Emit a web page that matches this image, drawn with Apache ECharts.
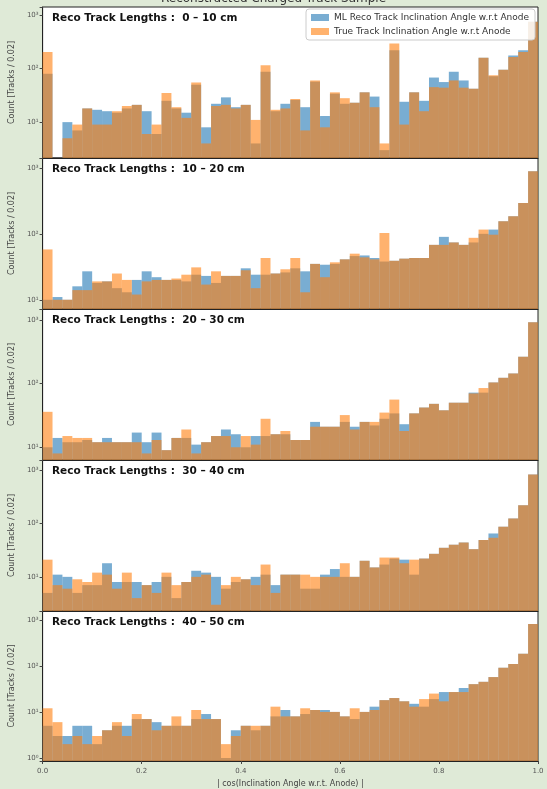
<!DOCTYPE html>
<html><head><meta charset="utf-8">
<script src="https://cdn.jsdelivr.net/npm/echarts@6/dist/echarts.min.js"></script>
<style>html,body{margin:0;padding:0;background:#dfead7;}#c{width:547px;height:789px;}</style>
</head><body><div id="c"></div>
<script>
// ---------- data ----------
const binWidth = 0.02;
const seriesNames = ['ML Reco Track Inclination Angle w.r.t Anode', 'True Track Inclination Angle w.r.t Anode'];
const panelTitles = [
  'Reco Track Lengths :  0 – 10 cm',
  'Reco Track Lengths :  10 – 20 cm',
  'Reco Track Lengths :  20 – 30 cm',
  'Reco Track Lengths :  30 – 40 cm',
  'Reco Track Lengths :  40 – 50 cm'
];
const mlReco_0_10 = [80,0,10,7,18,17,16,15,18,21,16,6,25,18,15,50,8,22,29,19,21,4,87,16,22,26,19,57,13,34,22,23,36,30,3,220,24,36,25,68,56,87,60,42,160,72,95,175,220,750];
const truth_0_10  = [205,0,5,9,18,9,9,16,20,21,6,9,35,19,12,55,4,20,21,18,21,11,116,17,18,27,7,60,8,36,28,23,36,19,4,295,9,36,16,45,44,60,44,42,160,75,95,165,205,750];
const mlReco_10_20 = [10,11,10,16,27,18,19,15,13,20,27,22,20,20,19,24,23,18,23,23,30,24,24,25,26,30,27,35,34,35,41,46,47,43,38,39,42,43,43,68,90,74,68,74,100,116,155,185,294,890];
const truth_10_20  = [58,10,10,14,14,19,19,25,20,12,19,20,20,21,24,31,17,27,23,23,28,15,43,25,29,43,13,35,22,37,41,50,44,41,103,39,42,43,43,68,68,74,68,87,116,97,155,185,294,890];
const mlReco_20_30 = [10,14,12,12,13,12,14,12,12,17,12,17,9,14,14,11,12,15,19,16,10,15,15,16,16,13,13,25,21,21,25,21,25,22,28,34,23,34,42,48,38,50,50,72,72,104,123,144,264,920];
const truth_20_30  = [36,8,15,14,14,12,12,12,12,12,8,13,9,14,19,8,12,15,15,10,15,11,28,16,18,13,13,21,21,21,32,19,25,25,35,56,18,34,42,48,38,50,50,70,85,104,123,144,264,920];
const mlReco_30_40 = [5,11,10,5,7,7,18,8,8,8,7,8,10,4,8,13,12,10,6,8,9,10,11,7,11,11,6,6,11,14,10,10,20,15,17,22,21,11,22,27,35,40,44,33,49,65,87,124,220,830];
const truth_30_40  = [21,7,6,9,8,12,11,6,12,4,7,5,12,7,8,10,11,3,7,10,9,7,17,5,11,11,11,10,10,10,18,10,20,15,23,23,18,21,22,27,35,40,44,33,49,54,87,124,220,830];
const mlReco_40_50 = [5,3,3,5,5,2,4,5,5,7,7,6,5,5,5,7,9,7,1,4,5,4,5,8,11,8,9,11,11,10,8,7,10,13,18,20,17,15,13,19,27,27,33,40,45,57,91,110,182,805];
const truth_40_50  = [12,6,2,3,2,3,4,6,3,9,7,4,5,8,5,11,7,7,2,3,5,5,5,13,8,8,12,11,10,10,8,12,10,11,18,20,17,13,19,25,17,27,27,40,45,57,91,110,182,805];
// axis limits (log10 of count)
const yLogMin = [0.33, 0.86, 0.80, 0.36, -0.065];
const yLogMax = [3.15, 3.15, 3.17, 3.19, 3.19];

const panels = [
  [mlReco_0_10, truth_0_10],
  [mlReco_10_20, truth_10_20],
  [mlReco_20_30, truth_20_30],
  [mlReco_30_40, truth_30_40],
  [mlReco_40_50, truth_40_50]
];

// ---------- chart ----------
const FONT = 'DejaVu Sans';
const fills = ['rgba(31,119,180,0.6)', 'rgba(255,127,14,0.6)'];
const gridTop = 7, gridH = 151, gridLeft = 40, gridW = 498;
const sup = {'0':'⁰','1':'¹','2':'²','3':'³','4':'⁴','-':'⁻'};

const grids = [], xAxes = [], yAxes = [], series = [], titles = [];
titles.push({text: 'Reconstructed Charged Track Sample', left: 'center', top: -12,
  textStyle: {fontFamily: FONT, fontSize: 12, fontWeight: 'normal', color: '#333'}});

panels.forEach((pair, p) => {
  const top = gridTop + p * gridH;
  grids.push({left: gridLeft, top: top, width: gridW, height: gridH, show: true,
    backgroundColor: '#ffffff', borderColor: '#222', borderWidth: 1});
  const last = p === panels.length - 1;
  xAxes.push({type: 'value', gridIndex: p, min: 0, max: 1, interval: 0.2,
    axisLine: {show: true, lineStyle: {color: '#222'}},
    axisTick: {show: last, length: 3, lineStyle: {color: '#444'}},
    splitLine: {show: false},
    axisLabel: {show: last, formatter: v => v.toFixed(1), fontFamily: FONT, fontSize: 7, color: '#555', margin: 7},
    name: last ? '| cos(Inclination Angle w.r.t. Anode) |' : '',
    nameLocation: 'middle', nameGap: 19,
    nameTextStyle: {fontFamily: FONT, fontSize: 8, color: '#444'}
  });
  const yMin = Math.pow(10, yLogMin[p]), yMax = Math.pow(10, yLogMax[p]);
  yAxes.push({type: 'log', logBase: 10, gridIndex: p, min: yMin, max: yMax,
    axisLine: {show: true, lineStyle: {color: '#222'}},
    axisTick: {show: true, length: 3, lineStyle: {color: '#444'}},
    splitLine: {show: false},
    axisLabel: {fontFamily: FONT, fontSize: 7, color: '#555', margin: 4,
      formatter: v => {
        const l = Math.log10(v); const r = Math.round(l);
        if (Math.abs(l - r) > 1e-6) return '';
        return '10' + String(r).split('').map(c => sup[c]).join('');
      }},
    name: 'Count [Tracks / 0.02]', nameLocation: 'middle', nameGap: 24, nameRotate: 90,
    nameTextStyle: {fontFamily: FONT, fontSize: 8, color: '#444'}
  });
  pair.forEach((vals, s) => {
    const data = vals.map((v, i) => [i * binWidth, (i + 1) * binWidth, v]);
    series.push({
      type: 'custom', name: seriesNames[s], xAxisIndex: p, yAxisIndex: p,
      itemStyle: {color: fills[s]}, clip: true,
      encode: {x: [0, 1], y: 2},
      data: data,
      renderItem: (params, api) => {
        const v = api.value(2);
        if (!(v > 0)) return null;
        const a = api.coord([api.value(0), v]);
        const b = api.coord([api.value(1), yMin]);
        return {type: 'rect', shape: {x: a[0], y: a[1], width: b[0] - a[0], height: b[1] - a[1]},
          style: {fill: fills[s]}};
      }
    });
  });
  titles.push({text: panelTitles[p], left: 47, top: top + 1,
    textStyle: {fontFamily: FONT, fontSize: 10.5, fontWeight: 'bold', color: '#111'}});
});

const chart = echarts.init(document.getElementById('c'), null, {renderer: 'canvas'});
chart.setOption({
  animation: false,
  backgroundColor: '#dfead7',
  title: titles,
  grid: grids, xAxis: xAxes, yAxis: yAxes, series: series,
  legend: {data: seriesNames, orient: 'vertical', right: 12, top: 9,
    icon: 'rect', itemWidth: 18, itemHeight: 7, itemGap: 5,
    backgroundColor: 'rgba(255,255,255,0.85)', borderColor: '#ccc', borderWidth: 1, borderRadius: 3,
    padding: [4, 6, 4, 5],
    textStyle: {fontFamily: FONT, fontSize: 9, color: '#333'}}
});
</script></body></html>
